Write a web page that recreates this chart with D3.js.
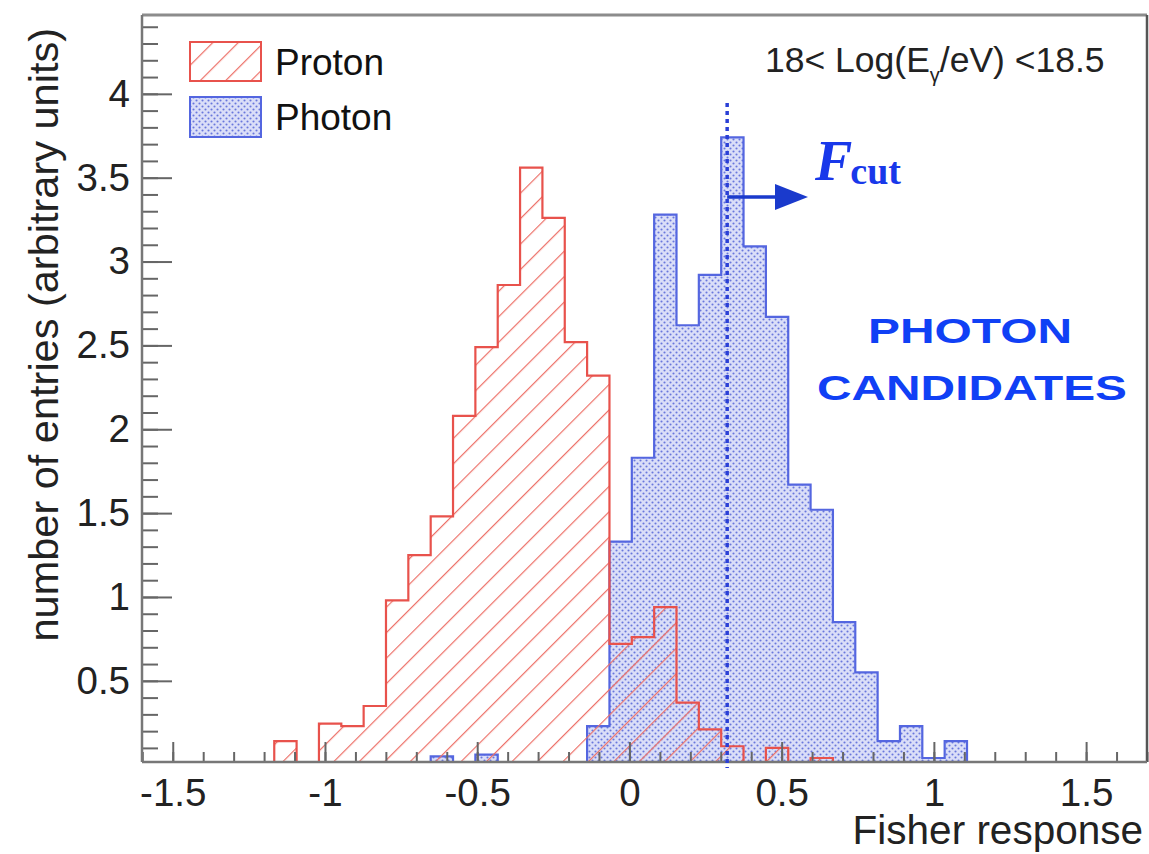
<!DOCTYPE html>
<html><head><meta charset="utf-8">
<script src="https://cdn.jsdelivr.net/npm/d3@7/dist/d3.min.js"></script>
<style>body{margin:0;background:#fff}</style>
</head><body>
<svg id="c" width="1149" height="854"></svg>
<script>
// ---- data ----
const binStart = -1.24;
const binWidth = 0.0734;
const seriesNames = ["Proton", "Photon"];
// null = bin not drawn
const protonCounts = [0, 0.14, 0, 0.245, 0.23, 0.35, 0.98, 1.25, 1.48, 2.08, 2.49, 2.86, 3.56, 3.26, 2.52, 2.32,
  0.72, 0.76, 0.94, 0.37, 0.21, 0.11, 0, 0.10, 0, 0.04];
const photonCounts = [null, null, null, null, null, null, null, null, 0.05, 0, 0.06, 0, 0, 0, 0, 0.23,
  1.33, 1.83, 3.28, 2.62, 2.92, 3.74, 3.09, 2.67, 1.67, 1.52, 0.85, 0.55, 0.14, 0.23, 0.04, 0.14];
const xTickValues = [-1.5, -1, -0.5, 0, 0.5, 1, 1.5];
const xTickLabels = ["-1.5", "-1", "-0.5", "0", "0.5", "1", "1.5"];
const yTickValues = [0.5, 1, 1.5, 2, 2.5, 3, 3.5, 4];
const yTickLabels = ["0.5", "1", "1.5", "2", "2.5", "3", "3.5", "4"];
const fCut = 0.321;
const xTitle = "Fisher response";
const yTitle = "number of entries (arbitrary units)";

// ---- scales ----
const L = 142, R = 1147, T = 15, B = 762;
const x = d3.scaleLinear().domain([-1.601, 1.70]).range([L, R]);
const y = d3.scaleLinear().domain([0.016, 4.47]).range([B, T]);
const svg = d3.select("#c");
const defs = svg.append("defs");

// hatch pattern (proton)
const hp = defs.append("pattern").attr("id", "hatch").attr("patternUnits", "userSpaceOnUse")
  .attr("width", 18).attr("height", 18).attr("patternTransform", "rotate(45)");
hp.append("line").attr("x1", 0).attr("y1", 0).attr("x2", 0).attr("y2", 18)
  .attr("stroke", "#ec6f67").attr("stroke-width", 2.4);
// dotted pattern (photon)
const dp = defs.append("pattern").attr("id", "dots").attr("patternUnits", "userSpaceOnUse")
  .attr("width", 6).attr("height", 6);
dp.append("rect").attr("width", 6).attr("height", 6).attr("fill", "#dadef8");
dp.append("circle").attr("cx", 1.5).attr("cy", 1.5).attr("r", 1.05).attr("fill", "#6877dc");
dp.append("circle").attr("cx", 4.5).attr("cy", 4.5).attr("r", 1.05).attr("fill", "#6877dc");

function stepPoints(counts) {
  let first = counts.findIndex(v => v !== null);
  let last = counts.length - 1;
  while (counts[last] === null) last--;
  const pts = [[binStart + first * binWidth, null]];
  for (let i = first; i <= last; i++) {
    const v = counts[i] === null ? 0 : counts[i];
    pts.push([binStart + i * binWidth, v]);
    pts.push([binStart + (i + 1) * binWidth, v]);
  }
  pts.push([binStart + (last + 1) * binWidth, null]);
  return pts;
}
const line = d3.line()
  .x(d => x(d[0]))
  .y(d => d[1] === null ? B : Math.min(B, y(Math.max(d[1], 0))));

// photon first, proton hatch on top
const phPts = stepPoints(photonCounts);
svg.append("path").attr("d", line(phPts) + "Z").attr("fill", "url(#dots)").attr("stroke", "none");
svg.append("path").attr("d", line(phPts)).attr("fill", "none").attr("stroke", "#5466e0").attr("stroke-width", 2.2);
const prPts = stepPoints(protonCounts);
svg.append("path").attr("d", line(prPts) + "Z").attr("fill", "url(#hatch)").attr("stroke", "none");
svg.append("path").attr("d", line(prPts)).attr("fill", "none").attr("stroke", "#e8524c").attr("stroke-width", 2.2);

// ---- axes ----
const font = "'Liberation Sans', Arial, Helvetica, sans-serif";
const axColor = "#666";
const minorX = d3.range(-16, 18).map(i => i / 10);
const gxm = svg.append("g").attr("transform", `translate(0,${B})`)
  .call(d3.axisBottom(x).tickValues(minorX).tickSize(-10).tickFormat(""));
const gx = svg.append("g").attr("transform", `translate(0,${B})`)
  .call(d3.axisBottom(x).tickValues(xTickValues).tickSize(-20).tickSizeOuter(0).tickPadding(17)
    .tickFormat((d, i) => xTickLabels[i]));
const minorY = d3.range(1, 45).map(i => i / 10);
const gym = svg.append("g").attr("transform", `translate(${L},0)`)
  .call(d3.axisLeft(y).tickValues(minorY).tickSize(-16).tickFormat(""));
const gy = svg.append("g").attr("transform", `translate(${L},0)`)
  .call(d3.axisLeft(y).tickValues(yTickValues).tickSize(-30).tickSizeOuter(0).tickPadding(12)
    .tickFormat((d, i) => yTickLabels[i]));
[gxm, gx, gym, gy].forEach(g => {
  g.select(".domain").remove();
  g.selectAll(".tick line").attr("stroke", axColor).attr("stroke-width", 2);
  g.selectAll("text").attr("font-family", font).attr("font-size", 38.5).attr("fill", "#222");
});

// frame
svg.append("line").attr("x1", L).attr("x2", R).attr("y1", T).attr("y2", T).attr("stroke", "#8c8c8c").attr("stroke-width", 3);
svg.append("line").attr("x1", R).attr("x2", R).attr("y1", T).attr("y2", B).attr("stroke", "#555").attr("stroke-width", 2.5);
svg.append("line").attr("x1", L).attr("x2", L).attr("y1", T).attr("y2", B).attr("stroke", "#777").attr("stroke-width", 2.5);
svg.append("line").attr("x1", L).attr("x2", R).attr("y1", B).attr("y2", B).attr("stroke", "#777").attr("stroke-width", 2.5);

// titles
svg.append("text").attr("x", 1143).attr("y", 844).attr("text-anchor", "end")
  .attr("font-family", font).attr("font-size", 40.5).attr("fill", "#222").text(xTitle);
svg.append("text").attr("transform", "translate(58,28) rotate(-90)").attr("text-anchor", "end")
  .attr("font-family", font).attr("font-size", 41.5).attr("fill", "#222").text(yTitle);

// legend
const leg = svg.append("g");
leg.append("rect").attr("x", 190).attr("y", 42).attr("width", 71).attr("height", 39)
  .attr("fill", "url(#hatch)").attr("stroke", "#e8524c").attr("stroke-width", 2);
leg.append("rect").attr("x", 190).attr("y", 97).attr("width", 71).attr("height", 40)
  .attr("fill", "url(#dots)").attr("stroke", "#5466e0").attr("stroke-width", 2);
leg.append("text").attr("x", 275).attr("y", 75).attr("font-family", font).attr("font-size", 37).attr("fill", "#111").text(seriesNames[0]);
leg.append("text").attr("x", 275).attr("y", 130).attr("font-family", font).attr("font-size", 37).attr("fill", "#111").text(seriesNames[1]);

// energy label
const lab = svg.append("text").attr("x", 765).attr("y", 72).attr("font-family", font).attr("font-size", 35.5).attr("fill", "#222");
lab.append("tspan").text("18< Log(E");
lab.append("tspan").attr("font-size", 20).attr("dy", 10).text("γ");
lab.append("tspan").attr("dy", -10).text("/eV) <18.5");

// F_cut marker
const blue = "#1838ea";
svg.append("line").attr("x1", x(fCut)).attr("x2", x(fCut)).attr("y1", 103).attr("y2", 768)
  .attr("stroke", "#2a3fd6").attr("stroke-width", 3.5).attr("stroke-dasharray", "4,4");
svg.append("line").attr("x1", x(fCut)).attr("x2", 778).attr("y1", 197).attr("y2", 197)
  .attr("stroke", "#1a3acc").attr("stroke-width", 3.5);
svg.append("path").attr("d", "M775,184 L808,197 L775,210 Z").attr("fill", "#1a3acc");
const fc = svg.append("text").attr("x", 815).attr("y", 180).attr("font-family", "'Liberation Serif', 'Times New Roman', serif").attr("fill", blue);
fc.append("tspan").attr("font-style", "italic").attr("font-weight", "bold").attr("font-size", 56).text("F");
fc.append("tspan").attr("font-weight", "bold").attr("font-size", 38).attr("dy", 4).attr("dx", -2).text("cut");

// photon candidates
const pcFont = "'Liberation Sans', Arial, sans-serif";
svg.append("text").attr("x", 868).attr("y", 343).attr("font-family", pcFont).attr("font-weight", "bold")
  .attr("font-size", 35).attr("fill", "#1040f5").attr("textLength", 204).attr("lengthAdjust", "spacingAndGlyphs").text("PHOTON");
svg.append("text").attr("x", 817).attr("y", 400).attr("font-family", pcFont).attr("font-weight", "bold")
  .attr("font-size", 35).attr("fill", "#1040f5").attr("textLength", 310).attr("lengthAdjust", "spacingAndGlyphs").text("CANDIDATES");
</script>
</body></html>
